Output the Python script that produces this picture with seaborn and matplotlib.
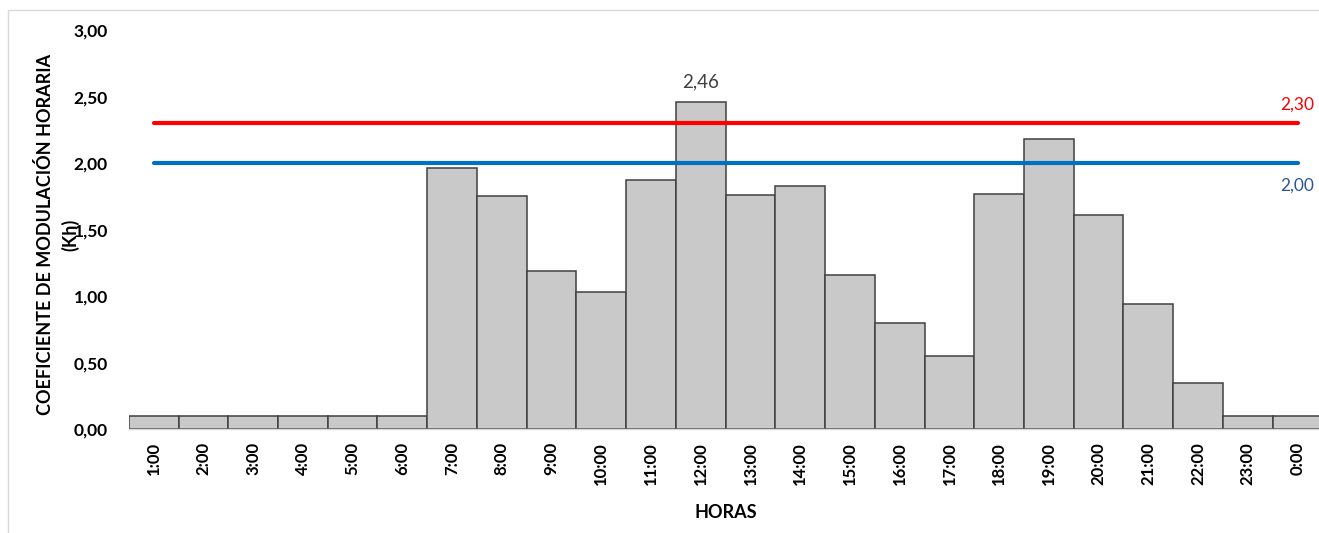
import matplotlib
matplotlib.use("Agg")
import matplotlib.pyplot as plt
from matplotlib.lines import Line2D
import seaborn as sns
import pandas as pd

horas = ["1:00", "2:00", "3:00", "4:00", "5:00", "6:00", "7:00", "8:00",
         "9:00", "10:00", "11:00", "12:00", "13:00", "14:00", "15:00", "16:00",
         "17:00", "18:00", "19:00", "20:00", "21:00", "22:00", "23:00", "0:00"]
kh = [0.10, 0.10, 0.10, 0.10, 0.10, 0.10, 1.96, 1.75,
      1.19, 1.03, 1.87, 2.46, 1.76, 1.83, 1.16, 0.80,
      0.55, 1.77, 2.18, 1.61, 0.94, 0.35, 0.10, 0.10]
kh_max = 2.30
kh_ref = 2.00
y_ticks = [0.0, 0.5, 1.0, 1.5, 2.0, 2.5, 3.0]
y_tick_labels = ["0,00", "0,50", "1,00", "1,50", "2,00", "2,50", "3,00"]

df = pd.DataFrame({"hora": horas, "kh": kh})

sns.set_theme(style="white")
plt.rcParams["font.family"] = ["Lato", "DejaVu Sans"]

fig = plt.figure(figsize=(13.19, 5.33), dpi=100)
ax = fig.add_axes([128.8 / 1319, 1 - 429.3 / 533, (1322.4 - 128.8) / 1319, (429.3 - 30) / 533])

sns.barplot(data=df, x="hora", y="kh", order=horas, color="#c9c9c9",
            saturation=1, width=1.0, edgecolor="#404040", linewidth=1.1, ax=ax, zorder=2)

n = len(horas)
ax.plot([0, n - 1], [kh_max, kh_max], color="#ff0000", linewidth=3, solid_capstyle="round", zorder=3)
ax.plot([0, n - 1], [kh_ref, kh_ref], color="#0070c0", linewidth=3, solid_capstyle="round", zorder=3)

# peak value label and reference line labels
i_max = kh.index(max(kh))
ax.text(i_max, max(kh) + 0.09, f"{max(kh):.2f}".replace(".", ","), ha="center", va="bottom",
        fontsize=13.5, color="#404040")
ax.text(n - 1, kh_max + 0.08, f"{kh_max:.2f}".replace(".", ","), ha="center", va="bottom",
        fontsize=12.5, color="#ff0000")
ax.text(n - 1, kh_ref - 0.11, f"{kh_ref:.2f}".replace(".", ","), ha="center", va="top",
        fontsize=12.5, color="#2f5597")

ax.set_xlim(-0.5, n - 0.5)
ax.set_ylim(0, 3.0)
ax.set_yticks(y_ticks)
ax.set_yticklabels(y_tick_labels, fontsize=12.5, fontweight="bold", color="black")
ax.set_xticks(range(n))
ax.set_xticklabels(horas, rotation=90, fontsize=12, fontweight="bold", color="black")
ax.tick_params(axis="y", pad=15, length=0)
ax.tick_params(axis="x", pad=9, length=0)

for s in ["top", "right", "left"]:
    ax.spines[s].set_visible(False)
ax.spines["bottom"].set_color("#d9d9d9")
ax.spines["bottom"].set_linewidth(1)

ax.set_xlabel("HORAS", fontsize=13, fontweight="bold", color="black", labelpad=14)

# two-line axis title: main text and the symbol on its own line
ax.set_ylabel("")
ax.text(-0.0702, 0.487, "COEFICIENTE DE MODULACIÓN HORARIA", transform=ax.transAxes,
        rotation=90, ha="center", va="center", fontsize=13, fontweight="bold", color="black")
ax.text(-0.0493, 0.487, "(Kh)", transform=ax.transAxes,
        rotation=90, ha="center", va="center", fontsize=13, fontweight="bold", color="black")

# light frame on the left and top edges
fig.add_artist(Line2D([8 / 1319, 8 / 1319], [0, 1 - 10 / 533], transform=fig.transFigure,
                      color="#d9d9d9", linewidth=1))
fig.add_artist(Line2D([8 / 1319, 1], [1 - 10 / 533, 1 - 10 / 533], transform=fig.transFigure,
                      color="#d9d9d9", linewidth=1))

fig.savefig("out.png", dpi=100, facecolor="white")
